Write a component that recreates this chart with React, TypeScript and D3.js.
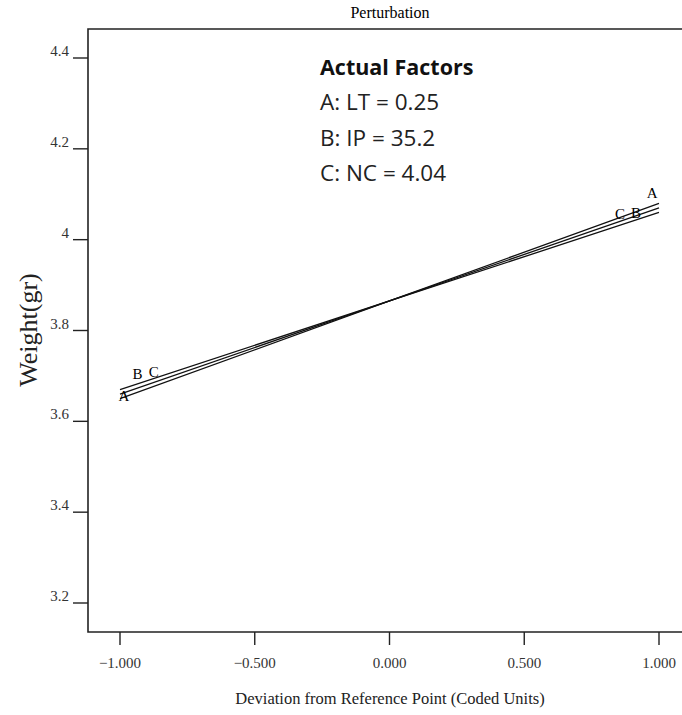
import React, { useRef, useEffect } from 'react';
import { select, scaleLinear, line, format } from 'd3';

// perturbation curves, coded units -1 .. 1
const factors = ['A', 'B', 'C'];
const deviation = [-1, 0, 1];
const weightA = [3.65, 3.865, 4.08];
const weightB = [3.67, 3.865, 4.06];
const weightC = [3.66, 3.865, 4.07];

// where each factor's letter sits along its curve (coded units)
const labelLeft = [-0.985, -0.935, -0.875];
const labelRight = [0.975, 0.915, 0.855];

const yTicks = [3.2, 3.4, 3.6, 3.8, 4, 4.2, 4.4];
const xTicks = [-1, -0.5, 0, 0.5, 1];

const legendTitle = 'Actual Factors';
const legendLines = ['A: LT = 0.25', 'B: IP = 35.2', 'C: NC = 4.04'];

export default function App() {
  const svgRef = useRef<SVGSVGElement>(null);

  useEffect(() => {
    const svg = select(svgRef.current);
    svg.selectAll('*').remove();

    const xScale = scaleLinear().domain([-1, 1]).range([120, 659]);
    const yScale = scaleLinear().domain([3.2, 4.4]).range([603, 58]);
    const left = 88, top = 29, bottom = 632, right = 690;
    const serif = '"Liberation Serif", "Times New Roman", serif';
    const sans = '"Open Sans", "Noto Sans", sans-serif';

    // frame
    svg.append('path')
      .attr('d', `M${right},${top}H${left}V${bottom}H${right}`)
      .attr('fill', 'none')
      .attr('stroke', '#222')
      .attr('stroke-width', 1.6);

    // y ticks
    const yg = svg.append('g');
    yTicks.forEach(t => {
      yg.append('line')
        .attr('x1', left - 15).attr('x2', left)
        .attr('y1', yScale(t)).attr('y2', yScale(t))
        .attr('stroke', '#222').attr('stroke-width', 1.4);
      yg.append('text')
        .attr('x', left - 19).attr('y', yScale(t) - 2)
        .attr('text-anchor', 'end')
        .style('font-family', serif).style('font-size', '15px')
        .attr('fill', '#333')
        .text(String(t));
    });

    // x ticks
    const xg = svg.append('g');
    xTicks.forEach(t => {
      xg.append('line')
        .attr('x1', xScale(t)).attr('x2', xScale(t))
        .attr('y1', bottom).attr('y2', bottom + 13)
        .attr('stroke', '#222').attr('stroke-width', 1.4);
      xg.append('text')
        .attr('x', xScale(t)).attr('y', bottom + 36)
        .attr('text-anchor', 'middle')
        .style('font-family', serif).style('font-size', '15px')
        .attr('fill', '#333')
        .text(format('.3f')(t));
    });

    // curves
    const series = [weightA, weightB, weightC];
    const path = line<number>()
      .x((_, i) => xScale(deviation[i]))
      .y(d => yScale(d));
    series.forEach(s => {
      svg.append('path')
        .attr('d', path(s))
        .attr('fill', 'none')
        .attr('stroke', '#111')
        .attr('stroke-width', 1.3);
    });

    const valueAt = (s: number[], x: number) =>
      scaleLinear().domain(deviation).range(s)(x);

    factors.forEach((f, i) => {
      const s = series[i];
      const lx = labelLeft[i], rx = labelRight[i];
      svg.append('text')
        .attr('x', xScale(lx)).attr('y', yScale(valueAt(s, lx)) + (f === 'A' ? 4 : -5))
        .attr('text-anchor', 'middle')
        .style('font-family', serif).style('font-size', '15px')
        .text(f);
      svg.append('text')
        .attr('x', xScale(rx)).attr('y', yScale(valueAt(s, rx)) - (f === 'A' ? 8 : 2))
        .attr('text-anchor', 'middle')
        .style('font-family', serif).style('font-size', '15px')
        .text(f);
    });

    // legend
    svg.append('text')
      .attr('x', 320).attr('y', 75)
      .style('font-family', sans).style('font-size', '21.5px').style('font-weight', 'bold')
      .attr('fill', '#111')
      .text(legendTitle);
    legendLines.forEach((t, i) => {
      svg.append('text')
        .attr('x', 320).attr('y', 110 + i * 35.5)
        .style('font-family', sans).style('font-size', '22.5px')
        .attr('fill', '#222')
        .text(t);
    });

    // titles
    svg.append('text')
      .attr('x', 390).attr('y', 18)
      .attr('text-anchor', 'middle')
      .style('font-family', serif).style('font-size', '16px')
      .text('Perturbation');

    svg.append('text')
      .attr('transform', 'translate(37,330) rotate(-90)')
      .attr('text-anchor', 'middle')
      .style('font-family', serif).style('font-size', '26px')
      .attr('fill', '#222')
      .text('Weight(gr)');

    svg.append('text')
      .attr('x', 390).attr('y', 704)
      .attr('text-anchor', 'middle')
      .style('font-family', serif).style('font-size', '16.5px')
      .attr('fill', '#222')
      .text('Deviation from Reference Point (Coded Units)');
  }, []);

  return (
    <svg ref={svgRef} width={682} height={715}
      style={{ position: 'absolute', left: 0, top: 0, background: '#fff' }} />
  );
}
